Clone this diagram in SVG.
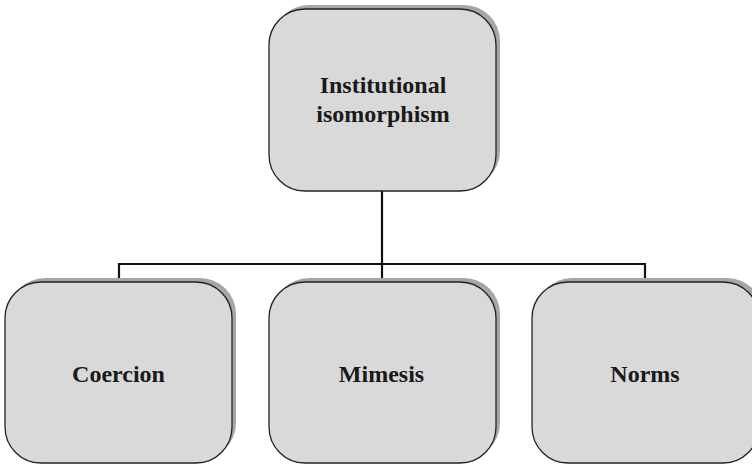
<svg xmlns="http://www.w3.org/2000/svg" width="752" height="464" viewBox="0 0 752 464">
  <style>
    .shadow { fill: #a6a6a6; }
    .box { fill: #d9d9d9; stroke: #222; stroke-width: 1.3; }
    .label { font-family: "Liberation Serif", "Times New Roman", serif; font-weight: bold; font-size: 24px; fill: #1a1a1a; text-anchor: middle; }
    .link { fill: none; stroke: #111; stroke-width: 2.2; }
  </style>
  <rect width="752" height="464" fill="#ffffff"/>

  <g id="connectors">
    <path class="link" d="M382,191 V264"/>
    <path class="link" d="M119,282 V264 H645 V282"/>
    <path class="link" d="M382,264 V282"/>
  </g>

  <g id="institutional-isomorphism">
    <rect class="shadow" x="273" y="5" width="227" height="182" rx="36"/>
    <rect class="box" x="269" y="9" width="227" height="182" rx="36"/>
    <text class="label" x="383" y="93">Institutional</text>
    <text class="label" x="383" y="122">isomorphism</text>
  </g>

  <g id="coercion">
    <rect class="shadow" x="9" y="278" width="227" height="181" rx="36"/>
    <rect class="box" x="5" y="282" width="227" height="181" rx="36"/>
    <text class="label" x="118.5" y="382">Coercion</text>
  </g>

  <g id="mimesis">
    <rect class="shadow" x="273" y="278" width="227" height="181" rx="36"/>
    <rect class="box" x="269" y="282" width="227" height="181" rx="36"/>
    <text class="label" x="381.5" y="382">Mimesis</text>
  </g>

  <g id="norms">
    <rect class="shadow" x="536" y="278" width="227" height="181" rx="36"/>
    <rect class="box" x="532" y="282" width="227" height="181" rx="36"/>
    <text class="label" x="645" y="382">Norms</text>
  </g>
</svg>
